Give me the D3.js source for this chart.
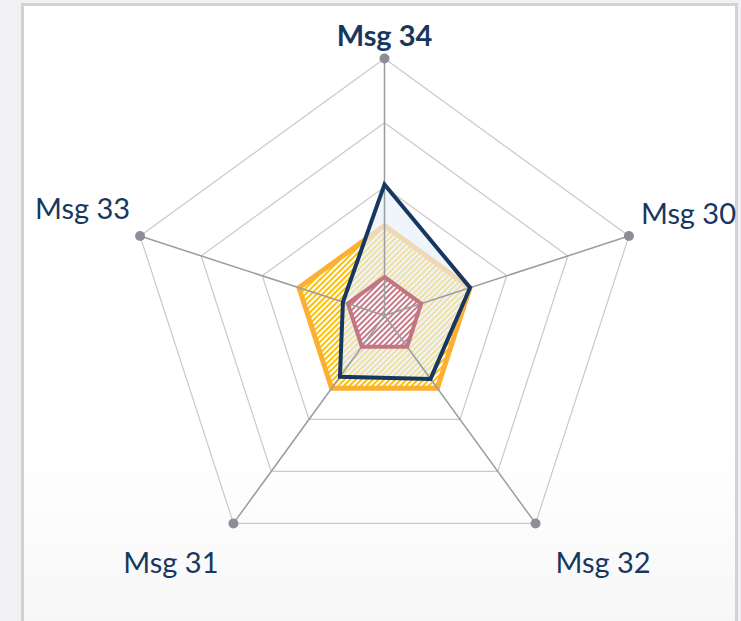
<!DOCTYPE html>
<html>
<head>
<meta charset="utf-8">
<script src="https://cdn.jsdelivr.net/npm/d3@7"></script>
<style>
  html, body { margin: 0; padding: 0; background: #f1f1f3; }
  #chart-area { width: 741px; height: 621px; }
</style>
</head>
<body>
<div id="chart-area"></div>
<script>
// axes, clockwise from the top
var categories = ["Msg 34", "Msg 30", "Msg 32", "Msg 31", "Msg 33"];
var ringTicks = [25, 50, 75, 100];
var seriesOrange = [35, 35, 35, 35, 35];
var seriesNavy = [51, 35, 30.5, 29.5, 17];
var seriesRed = [15, 15, 15, 15, 15];

var width = 741, height = 621;
var cx = 384.5, cy = 315.5, R = 257;

var svg = d3.select("#chart-area")
    .append("svg")
    .attr("width", width)
    .attr("height", height);

var defs = svg.append("defs");

// background of the frame
var bg = defs.append("linearGradient")
    .attr("id", "frameBg")
    .attr("x1", 0).attr("y1", 0).attr("x2", 0).attr("y2", 1);
bg.append("stop").attr("offset", "0%").attr("stop-color", "#ffffff");
bg.append("stop").attr("offset", "70%").attr("stop-color", "#ffffff");
bg.append("stop").attr("offset", "100%").attr("stop-color", "#f6f6f7");

// striped fills
function stripes(id, color, back) {
    var p = defs.append("pattern")
        .attr("id", id)
        .attr("patternUnits", "userSpaceOnUse")
        .attr("width", 4)
        .attr("height", 4)
        .attr("patternTransform", "rotate(45)");
    p.append("rect").attr("width", 4).attr("height", 4).attr("fill", back);
    p.append("rect").attr("width", 2).attr("height", 4).attr("fill", color);
}
stripes("stripeOrange", "#ffc000", "#ffffff");
stripes("stripeRed", "#c67a87", "#ffffff");

svg.append("rect")
    .attr("x", 22.5)
    .attr("y", 4.5)
    .attr("width", 714)
    .attr("height", 640)
    .attr("fill", "url(#frameBg)")
    .attr("stroke", "#d2d2d4")
    .attr("stroke-width", 3);

var g = svg.append("g")
    .attr("transform", "translate(" + cx + "," + cy + ")");

var r = d3.scaleLinear().domain([0, 100]).range([0, R]);
var angle = d3.scalePoint()
    .domain(categories)
    .range([0, 2 * Math.PI * (categories.length - 1) / categories.length]);

function pt(cat, v) {
    var a = angle(cat);
    return [r(v) * Math.sin(a), -r(v) * Math.cos(a)];
}

var line = d3.line().curve(d3.curveLinearClosed);

// grid rings
g.selectAll(".ring")
    .data(ringTicks)
    .enter().append("path")
    .attr("class", "ring")
    .attr("fill", "none")
    .attr("stroke", "#c9c9cb")
    .attr("stroke-width", 1.2)
    .attr("d", function(t) {
        return line(categories.map(function(c) { return pt(c, t); }));
    });

function polygon(vals) {
    return line(categories.map(function(c, i) { return pt(c, vals[i]); }));
}

// orange series
g.append("path")
    .attr("d", polygon(seriesOrange))
    .attr("fill", "url(#stripeOrange)")
    .attr("stroke", "#fbb034")
    .attr("stroke-width", 5)
    .attr("stroke-linejoin", "miter");

// navy series fill (lies over the orange one)
g.append("path")
    .attr("d", polygon(seriesNavy))
    .attr("fill", "#e6eff9")
    .attr("fill-opacity", 0.65)
    .attr("stroke", "none");

// red series fill
g.append("path")
    .attr("d", polygon(seriesRed))
    .attr("fill", "url(#stripeRed)")
    .attr("stroke", "none");

// spokes
g.selectAll(".spoke")
    .data(categories)
    .enter().append("line")
    .attr("class", "spoke")
    .attr("x1", 0).attr("y1", 0)
    .attr("x2", function(c) { return pt(c, 100)[0]; })
    .attr("y2", function(c) { return pt(c, 100)[1]; })
    .attr("stroke", "#9b9ca0")
    .attr("stroke-width", 1.5);

// strokes on top
g.append("path")
    .attr("d", polygon(seriesNavy))
    .attr("fill", "none")
    .attr("stroke", "#17375e")
    .attr("stroke-width", 4)
    .attr("stroke-linejoin", "miter");

g.append("path")
    .attr("d", polygon(seriesRed))
    .attr("fill", "none")
    .attr("stroke", "#c27682")
    .attr("stroke-width", 4)
    .attr("stroke-linejoin", "miter");

// end dots
g.selectAll(".dot")
    .data(categories)
    .enter().append("circle")
    .attr("class", "dot")
    .attr("cx", function(c) { return pt(c, 100)[0]; })
    .attr("cy", function(c) { return pt(c, 100)[1]; })
    .attr("r", 5)
    .attr("fill", "#8b8e96");

// labels, placed by direction of the axis
function labelPlace(c) {
    var p = pt(c, 100), a = angle(c), s = Math.sin(a), co = Math.cos(a);
    if (co > 0.9) return { x: p[0], y: p[1] - 13, anchor: "middle" };
    if (co > 0) return s > 0 ? { x: p[0] + 12, y: p[1] - 12, anchor: "start" }
                             : { x: p[0] - 10, y: p[1] - 17, anchor: "end" };
    return s > 0 ? { x: p[0] + 20, y: p[1] + 50, anchor: "start" }
                 : { x: p[0] - 15, y: p[1] + 50, anchor: "end" };
}

g.selectAll(".label")
    .data(categories)
    .enter().append("text")
    .attr("class", "label")
    .attr("x", function(c) { return labelPlace(c).x; })
    .attr("y", function(c) { return labelPlace(c).y; })
    .attr("text-anchor", function(c) { return labelPlace(c).anchor; })
    .attr("font-family", "Lato, sans-serif")
    .attr("font-size", "29px")
    .attr("font-weight", function(c, i) { return i === 0 ? "bold" : "normal"; })
    .attr("fill", "#17375e")
    .text(function(c) { return c; });
</script>
</body>
</html>
